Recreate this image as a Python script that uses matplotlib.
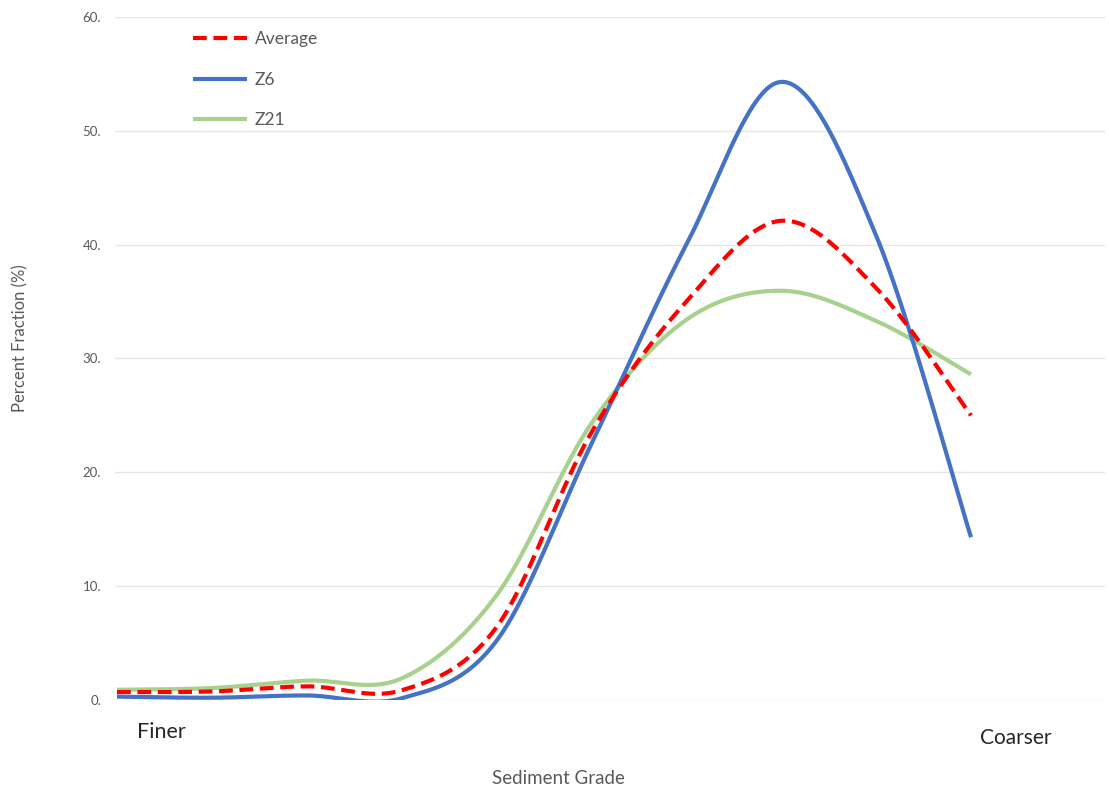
import numpy as np
import matplotlib
matplotlib.use("Agg")
import matplotlib.pyplot as plt

plt.rcParams['font.family'] = ['Lato', 'DejaVu Sans']

# Sieve fractions, finest (left) to coarsest (right)
grades = list(range(10))
average = [0.7, 0.75, 1.2, 0.85, 6.4, 23.5, 35.0, 42.1, 36.2, 25.0]
z6 = [0.3, 0.2, 0.4, 0.15, 5.2, 22.5, 40.0, 54.3, 40.8, 14.3]
z21 = [0.9, 1.05, 1.7, 1.9, 9.2, 24.3, 33.4, 35.95, 33.3, 28.6]

y_ticks = [0, 10, 20, 30, 40, 50, 60]
y_tick_labels = ["0.", "10.", "20.", "30.", "40.", "50.", "60."]


def smooth(xs, ys, n=40):
    """Bezier smoothing through every point (spreadsheet-style smoothed line)."""
    p = np.column_stack([xs, ys]).astype(float)
    ext = np.vstack([p[0], p, p[-1]])
    out = []
    t = np.linspace(0, 1, n)[:, None]
    for i in range(len(p) - 1):
        p0, p1, p2, p3 = ext[i], ext[i + 1], ext[i + 2], ext[i + 3]
        c1 = p1 + (p2 - p0) / 6.0
        c2 = p2 - (p3 - p1) / 6.0
        seg = ((1 - t) ** 3) * p1 + 3 * ((1 - t) ** 2) * t * c1 \
            + 3 * (1 - t) * t ** 2 * c2 + t ** 3 * p2
        out.append(seg if i == 0 else seg[1:])
    s = np.vstack(out)
    return s[:, 0], s[:, 1]


W, H = 1109, 789
fig = plt.figure(figsize=(W / 100, H / 100), dpi=100)
ax_left, ax_right, ax_top, ax_bot = 115, 1105, 17, 700
ax = fig.add_axes([ax_left / W, 1 - ax_bot / H, (ax_right - ax_left) / W, (ax_bot - ax_top) / H])

blue = "#4472C4"
green = "#A9D18E"
red = "#FF0000"

xs, ys = smooth(grades, z21)
ax.plot(xs, ys, color=green, lw=3.0, solid_capstyle='butt', label="Z21", zorder=3)
xs, ys = smooth(grades, z6)
ax.plot(xs, ys, color=blue, lw=3.0, solid_capstyle='butt', label="Z6", zorder=4)
xs, ys = smooth(grades, average)
ax.plot(xs, ys, color=red, lw=3.0, dashes=(3.3, 1.6), dash_capstyle='butt',
        label="Average", zorder=5)

# x range: first grade at px 117, last at px 971
ppu = (971 - 117) / 9
ax.set_xlim(-(117 - ax_left) / ppu, 9 + (ax_right - 971) / ppu)
ax.set_ylim(0, 60)

ax.set_yticks(y_ticks)
ax.set_yticklabels(y_tick_labels)
ax.set_xticks([])
ax.tick_params(axis='y', length=0, pad=10, labelsize=9.5, labelcolor="#595959")
for s in ax.spines.values():
    s.set_visible(False)
ax.grid(axis='y', color="#E6E6E6", lw=1.0)
ax.set_axisbelow(True)

handles, labels = ax.get_legend_handles_labels()
order = [2, 1, 0]
ax.legend([handles[i] for i in order], [labels[i] for i in order],
          loc='upper left', bbox_to_anchor=(193 / W, 1 - 31 / H),
          bbox_transform=fig.transFigure, frameon=False, fontsize=12.5,
          labelcolor="#595959", handlelength=3.1, handletextpad=0.45,
          labelspacing=1.42, borderpad=0, borderaxespad=0)

fig.text(20 / W, 1 - 338 / H, "Percent Fraction (%)", rotation=90, ha='center',
         va='center', fontsize=12, color="#595959")
fig.text(558 / W, 1 - 778 / H, "Sediment Grade", ha='center', va='center',
         fontsize=13.5, color="#595959")
fig.text(137 / W, 1 - 732 / H, "Finer", ha='left', va='center', fontsize=15.5,
         color="#262626")
fig.text(980 / W, 1 - 738 / H, "Coarser", ha='left', va='center', fontsize=15,
         color="#262626")

fig.savefig("out.png", dpi=100, facecolor="white")
